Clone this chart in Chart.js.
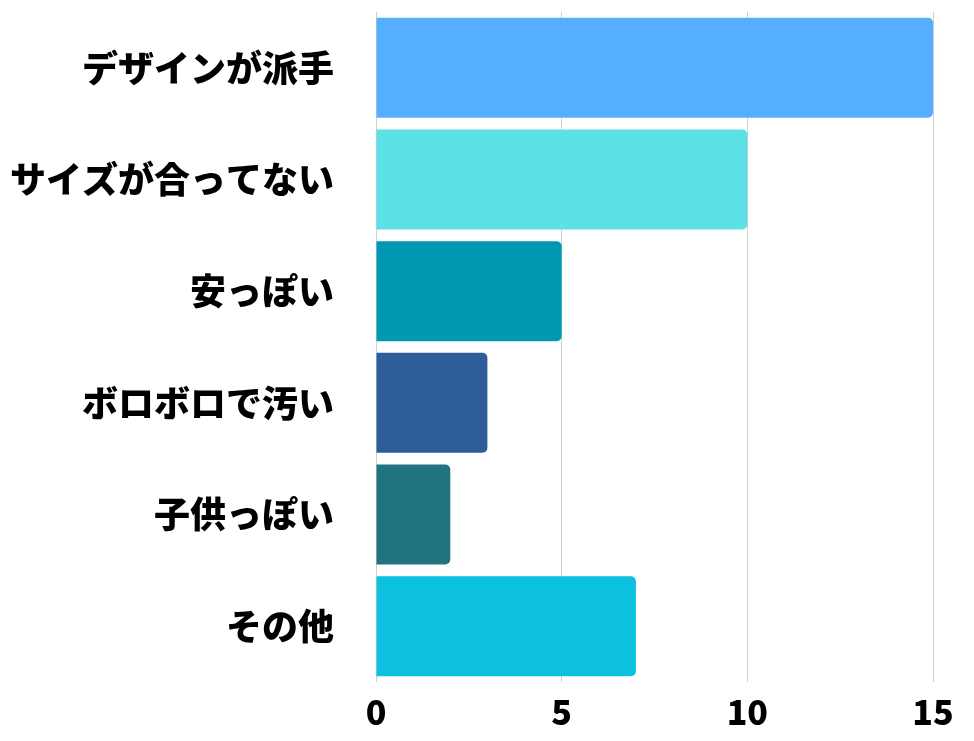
<!DOCTYPE html>
<html><head><meta charset="utf-8">
<script src="https://cdn.jsdelivr.net/npm/chart.js@4"></script>
<style>html,body{margin:0;padding:0;background:#fff}#w{width:974px;height:741px}</style>
</head><body><div id="w"><canvas id="c"></canvas></div>
<script>
const categories=["デザインが派手","サイズが合ってない","安っぽい","ボロボロで汚い","子供っぽい","その他"];
const values=[15,10,5,3,2,7];
const colors=["#55AEFF","#5CE1E6","#0097B2","#2E5E99","#20737F","#0CC0DF"];
const xTicks=[0,5,10,15];
new Chart(document.getElementById('c'),{
type:'bar',
data:{labels:categories,datasets:[{data:values,backgroundColor:colors,borderRadius:5,borderSkipped:'start',barPercentage:0.895,categoryPercentage:1}]},
options:{indexAxis:'y',responsive:true,maintainAspectRatio:false,animation:false,
layout:{padding:{top:12,right:41,left:0,bottom:0}},
plugins:{legend:{display:false},tooltip:{enabled:false}},
scales:{
x:{min:0,max:15,afterBuildTicks:a=>{a.ticks=xTicks.map(v=>({value:v}))},
grid:{color:'#d0d0d0',drawTicks:false},border:{display:false},
ticks:{color:'#000',font:{family:'"Noto Sans CJK JP"',size:34,weight:900},padding:10},
afterFit:a=>{a.height=59}},
y:{grid:{display:false},border:{display:false},
ticks:{color:'#000',font:{family:'"Noto Sans CJK JP"',size:36,weight:900},padding:34},
afterFit:a=>{a.width=376;a.paddingTop=0;a.paddingBottom=0}}
}}});
</script></body></html>
